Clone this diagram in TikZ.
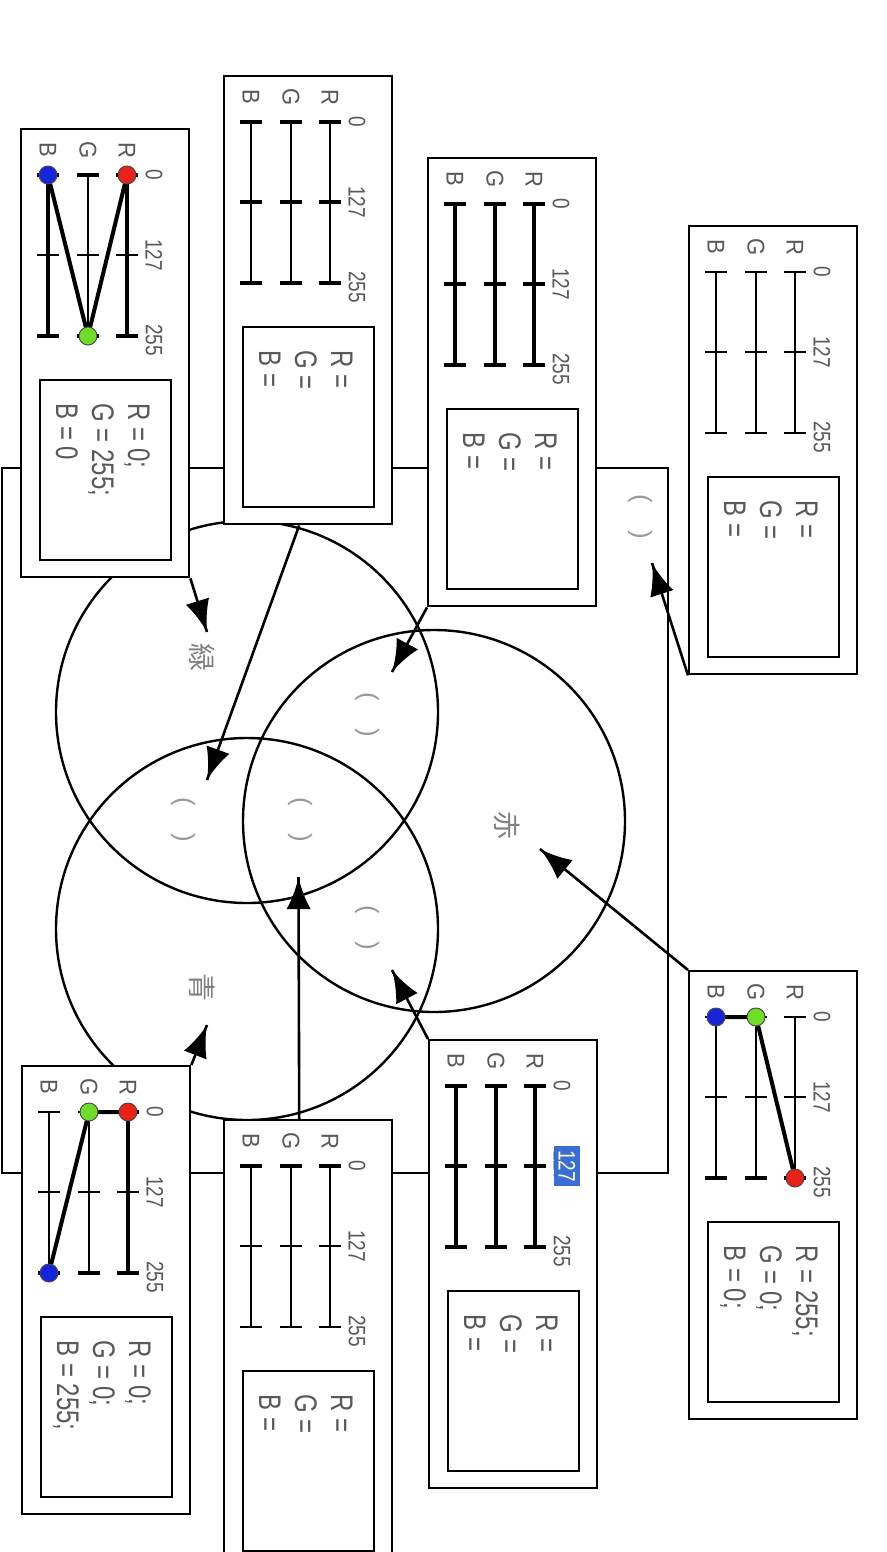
\documentclass[tikz,border=0pt]{standalone}
\usepackage{fontspec}
\setmainfont{Liberation Sans}
\newfontfamily\cjk{Noto Sans CJK JP}
\usetikzlibrary{arrows}
\usetikzlibrary{decorations.markings}
\definecolor{knobred}{RGB}{232,34,24}
\definecolor{knobgreen}{RGB}{112,222,40}
\definecolor{knobblue}{RGB}{22,36,222}
\definecolor{hilite}{RGB}{58,110,214}
\tikzset{arr/.style = {line width=1.3pt, decoration={markings,
                                  mark=at position 1 with {\arrow[scale=2.4]{latex}}},
                      postaction={decorate}}}
\tikzset{panel/.style = {draw, fill=white, line width=1.2pt, inner sep=0, anchor=north west,
                         minimum width=84pt, minimum height=224pt}}
\tikzset{valbox/.style = {draw, line width=1pt, inner sep=0, anchor=north west,
                          minimum width=65.5pt, minimum height=90pt}}
\tikzset{lbl/.style = {text=black!65, font=\fontsize{11}{11}\selectfont, rotate=-90, yscale=1.1, inner sep=0}}
\tikzset{num/.style = {text=black!65, font=\fontsize{9.5}{9.5}\selectfont, rotate=-90, yscale=1.25, inner sep=0}}
\tikzset{val/.style = {text=black!65, font=\fontsize{12}{12}\selectfont, rotate=-90, yscale=1.3,
                       anchor=mid west, inner sep=0}}
\tikzset{hue/.style = {text=black!50, font=\cjk\fontsize{14}{14}\selectfont, rotate=-90, inner sep=0}}
\tikzset{paren/.style = {text=black!40, font=\fontsize{13}{13}\selectfont, rotate=-90, inner sep=0}}
\tikzset{knob/.style = {circle, draw=black!70, line width=0.5pt, inner sep=0, minimum size=9pt}}
\tikzset{link/.style = {line width=2pt}}
\tikzset{ring/.style = {circle, draw, line width=1.2pt, inner sep=0, minimum size=191pt}}

\begin{document}
\begin{tikzpicture}[x=0.5pt, y=-0.5pt]
    \path[use as bounding box] (0,0) rectangle (887,1552);
    \clip (0,0) rectangle (887,1552);
    % frame and circles
    \draw [line width=0.8pt] (2,468) rectangle (668,1173);
    \node [ring] (cR) at (434,821) {};
    \node [ring] (cG) at (247,712) {};
    \node [ring] (cB) at (247,929) {};
    \node [hue] (hR) at (507,825) {赤};
    \node [hue] (hG) at (202,657) {緑};
    \node [hue] (hB) at (202,987) {青};
    \node [paren] (q1) at (640,517) {(\hspace{14pt})};
    \node [paren] (q2) at (367,715) {(\hspace{14pt})};
    \node [paren] (q3) at (183,820) {(\hspace{14pt})};
    \node [paren] (q4) at (300,820) {(\hspace{14pt})};
    \node [paren] (q5) at (367,928) {(\hspace{14pt})};
    % panels with sliders
    \foreach \p/\x/\y/\tw/\aw/\mw/\zw in {A/20/128/0.7/1.6/0.7/1.6, B/223/75/0.7/1.6/1.6/1.6,
        C/427/157/1.6/1.6/1.6/1.6, D/688/225/0.7/0.7/0.7/0.7, E/688/970/0.7/0.7/0.7/1.6,
        F/428/1039/1.6/1.6/1.6/1.6, G/223/1119/0.7/1.6/0.7/0.7, H/21/1065/0.7/0.7/0.7/1.6} {
      \node [panel] (p\p) at (\x,\y) {};
      \node [valbox] (v\p) at (\x+19,\y+251) {};
      \foreach \c/\dx in {R/107, G/68, B/28} {
        \draw [line width=\tw pt] (\x+\dx,\y+47) -- (\x+\dx,\y+208);
        \draw [line width=\aw pt] (\x+\dx-11,\y+47) -- (\x+\dx+11,\y+47);
        \draw [line width=\mw pt] (\x+\dx-11,\y+127) -- (\x+\dx+11,\y+127);
        \draw [line width=\zw pt] (\x+\dx-11,\y+208) -- (\x+\dx+11,\y+208);
        \node [lbl] (l\p\c) at (\x+\dx,\y+22) {\c};
      }
      \node [num] (n\p a) at (\x+134,\y+47) {0};
      \node [num] (n\p b) at (\x+134,\y+127) {127};
      \node [num] (n\p c) at (\x+134,\y+212) {255};
    }
    % values
    \foreach \p/\x/\y/\r/\g/\b in {A/20/128/0;/255;/0, B/223/75///, C/427/157///, D/688/225///,
        E/688/970/255;/0;/0;, F/428/1039///, G/223/1119///, H/21/1065/0;/0;/255;} {
      \node [val] (t\p R) at (\x+115,\y+275) {R = \r};
      \node [val] (t\p G) at (\x+79,\y+275) {G = \g};
      \node [val] (t\p B) at (\x+43,\y+275) {B = \b};
    }
    \node [num, fill=hilite, text=yellow!25, inner sep=2pt] (hl) at (567,1166) {127};
    % thick tracks
    \draw [line width=1.6pt] (127,175) -- (127,336);
    \draw [line width=1.6pt] (48,175) -- (48,336);
    \draw [line width=1.6pt] (128,1112) -- (128,1273);
    \draw [line width=1.6pt] (117,1112) -- (139,1112);
    % knobs
    \coordinate (kAR) at (127,175);
    \coordinate (kAG) at (88,336);
    \coordinate (kAB) at (48,175);
    \coordinate (kER) at (795,1178);
    \coordinate (kEG) at (756,1017);
    \coordinate (kEB) at (716,1017);
    \coordinate (kHR) at (128,1112);
    \coordinate (kHG) at (89,1112);
    \coordinate (kHB) at (49,1273);
    \draw [link] (kAR) -- (kAG) -- (kAB);
    \draw [link] (kER) -- (kEG) -- (kEB);
    \draw [link] (kHR) -- (kHG) -- (kHB);
    \foreach \p in {A, E, H} {
      \node [knob, fill=knobred] (d\p R) at (k\p R) {};
      \node [knob, fill=knobgreen] (d\p G) at (k\p G) {};
      \node [knob, fill=knobblue] (d\p B) at (k\p B) {};
    }
    % arrows
    \coordinate (aA) at (207,632);
    \coordinate (aB) at (207,780);
    \coordinate (aC) at (392,672);
    \coordinate (aD) at (652,563);
    \coordinate (aE) at (540,849);
    \coordinate (aF) at (392,970);
    \coordinate (aG) at (298.5,877);
    \coordinate (aH) at (207,1025);
    \draw [arr] (pA.south east) -- (aA);
    \draw [arr] ([xshift=-4.5pt]pB.south) -- (aB);
    \draw [arr] (pC.south west) -- (aC);
    \draw [arr] (pD.south west) -- (aD);
    \draw [arr] (pE.north west) -- (aE);
    \draw [arr] (pF.north west) -- (aF);
    \draw [arr] ([xshift=-4.5pt]pG.north) -- (aG);
    \draw [arr] (pH.north east) -- (aH);
\end{tikzpicture}
\end{document}
